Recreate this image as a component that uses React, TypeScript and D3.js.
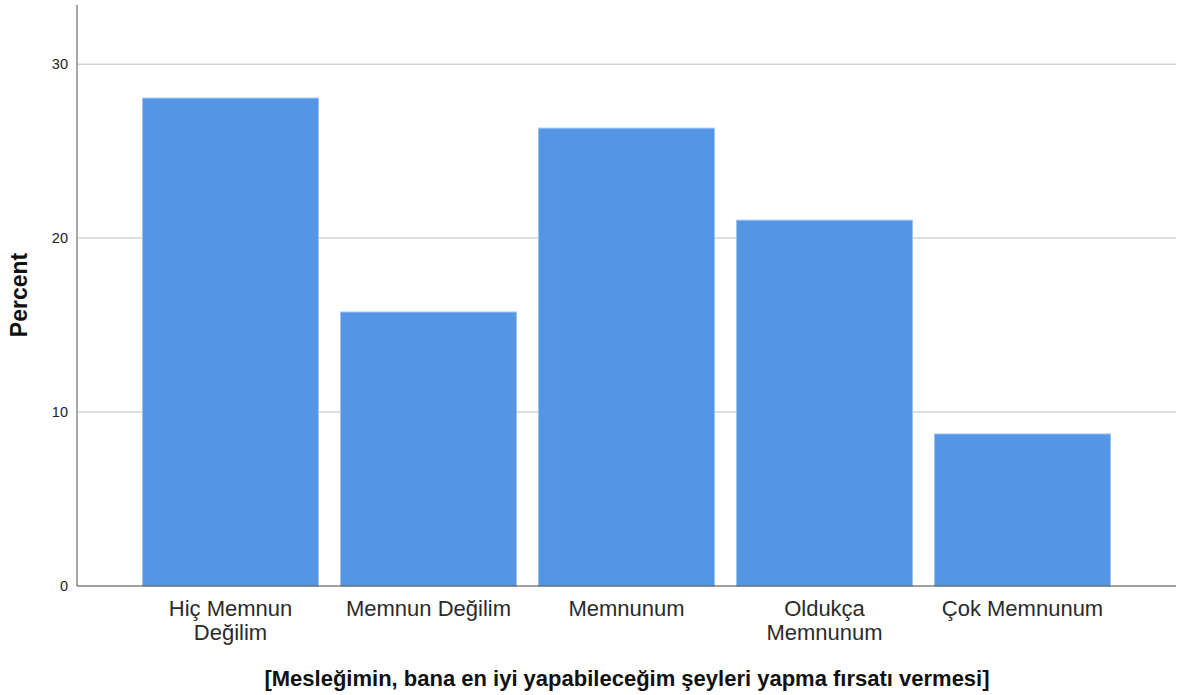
import React from "react";
import * as d3 from "d3";

const categories: string[][] = [
  ["Hiç Memnun", "Değilim"],
  ["Memnun Değilim"],
  ["Memnunum"],
  ["Oldukça", "Memnunum"],
  ["Çok Memnunum"],
];
const percents: number[] = [28.05, 15.75, 26.32, 21.03, 8.74];
const yTicks: number[] = [0, 10, 20, 30];
const yTitle = "Percent";
const xTitle = "[Mesleğimin, bana en iyi yapabileceğim şeyleri yapma fırsatı vermesi]";

const W = 1183;
const H = 695;
const axisX = 77;
const plotRight = 1176;
const baseY = 586;
const topY = 5;

export default function App() {
  const keys = categories.map((c) => c.join(" "));
  const x = d3.scaleBand<string>().domain(keys).range([131.5, 1121.5]).paddingInner(0.106).paddingOuter(0.053);
  const y = d3.scaleLinear().domain([0, 33.4]).range([baseY, topY]);
  const font = "'Liberation Sans', Arial, sans-serif";
  return (
    <svg width={W} height={H} style={{ position: "absolute", left: 0, top: 0, background: "#fff" }}>
      {yTicks.filter((t) => t > 0).map((t) => (
        <line key={"g" + t} x1={axisX} x2={plotRight} y1={y(t)} y2={y(t)} stroke="#d3d3d3" strokeWidth={1.5} />
      ))}
      {percents.map((v, i) => {
        const k = keys[i];
        return (
          <rect
            key={k}
            x={x(k)! + 0.5}
            y={y(v)}
            width={x.bandwidth() - 1}
            height={baseY - y(v)}
            fill="#5596e4"
            stroke="#9cc2f0"
            strokeWidth={1}
          />
        );
      })}
      <line x1={axisX} x2={axisX} y1={topY} y2={baseY} stroke="#8a8a8a" strokeWidth={1.5} />
      <line x1={axisX} x2={plotRight} y1={baseY} y2={baseY} stroke="#444" strokeWidth={1.2} />
      {yTicks.map((t) => (
        <text key={"t" + t} x={68} y={y(t) + 5} textAnchor="end" fontFamily={font} fontSize={14.5} fill="#222">
          {t}
        </text>
      ))}
      {categories.map((lines, i) => {
        const k = keys[i];
        const cx = x(k)! + x.bandwidth() / 2;
        return (
          <text key={"c" + k} x={cx} y={616} textAnchor="middle" fontFamily={font} fontSize={22} fill="#2a2a2a">
            {lines.map((ln, j) => (
              <tspan key={j} x={cx} dy={j === 0 ? 0 : 24}>
                {ln}
              </tspan>
            ))}
          </text>
        );
      })}
      <text
        transform={`translate(27,${295}) rotate(-90)`}
        textAnchor="middle"
        fontFamily={font}
        fontSize={23}
        fontWeight="bold"
        fill="#111"
      >
        {yTitle}
      </text>
      <text x={627} y={686} textAnchor="middle" fontFamily={font} fontSize={22} fontWeight="bold" fill="#111">
        {xTitle}
      </text>
    </svg>
  );
}
